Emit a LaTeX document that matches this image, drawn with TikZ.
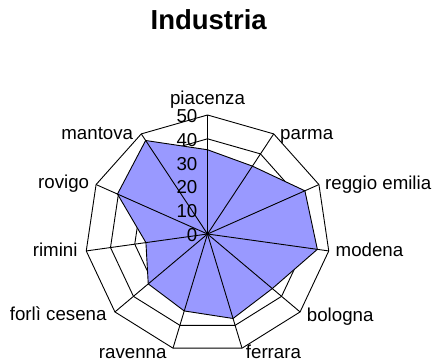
\documentclass[tikz,border=0pt]{standalone}
\usepackage{fontspec}
\setmainfont{Liberation Sans}
\definecolor{radarfill}{RGB}{153,153,255}

\begin{document}
\begin{tikzpicture}[x=1pt,y=-1pt,
		lbl/.style={font=\fontsize{18.7}{20}\selectfont, inner sep=0pt},
		ring/.style={black, line width=0.9pt, line join=miter}]
		\useasboundingbox (0,0) rectangle (435,363);
		\node [font=\bfseries\fontsize{27.5}{30}\selectfont, inner sep=0pt, anchor=base] (title) at (208.7,29.3) {Industria};
		\begin{scope}[shift={(207.5,234)}, x=2.45pt, y=2.38pt]
				% rings
				\foreach \r in {10,20,...,50}
					\draw [ring] (90:\r) \foreach \i in {1,...,10} {-- ({90-\i*360/11}:\r)} -- cycle;
				% data
				\draw [ring, fill=radarfill] (90:35.4) -- ({90-360/11}:33.9) -- ({90-2*360/11}:43.7)
					-- ({90-3*360/11}:45.3) -- ({90-4*360/11}:35) -- ({90-5*360/11}:37)
					-- ({90-6*360/11}:33.7) -- ({90-7*360/11}:32) -- ({90-8*360/11}:25.4)
					-- ({90-9*360/11}:40.4) -- ({90-10*360/11}:46.7) -- cycle;
				% spokes
				\foreach \i in {0,...,10}
					\draw [ring] (0,0) -- ({90-\i*360/11}:50);
		\end{scope}
		% scale
		\foreach \k in {0,...,5}
			\node [lbl, anchor=east] (s\k) at (197.5,{235-\k*23.8}) {\the\numexpr\k*10\relax};
		% axis names
		\node [lbl, anchor=base] (piacenza) at (207.5,104.5) {piacenza};
		\node [lbl, anchor=base west] (parma) at (280,139.3) {parma};
		\node [lbl, anchor=base west] (reggio) at (325,189.3) {reggio emilia};
		\node [lbl, anchor=base west] (modena) at (335.5,256.7) {modena};
		\node [lbl, anchor=base west] (bologna) at (306.7,321) {bologna};
		\node [lbl, anchor=base west] (ferrara) at (245.7,358.3) {ferrara};
		\node [lbl, anchor=base east] (ravenna) at (166.7,358.3) {ravenna};
		\node [lbl, anchor=base east] (forli) at (106.7,320) {forlì cesena};
		\node [lbl, anchor=base east] (rimini) at (77.7,256) {rimini};
		\node [lbl, anchor=base east] (rovigo) at (89.3,188.3) {rovigo};
		\node [lbl, anchor=base east] (mantova) at (133.3,139.3) {mantova};
\end{tikzpicture}
\end{document}
